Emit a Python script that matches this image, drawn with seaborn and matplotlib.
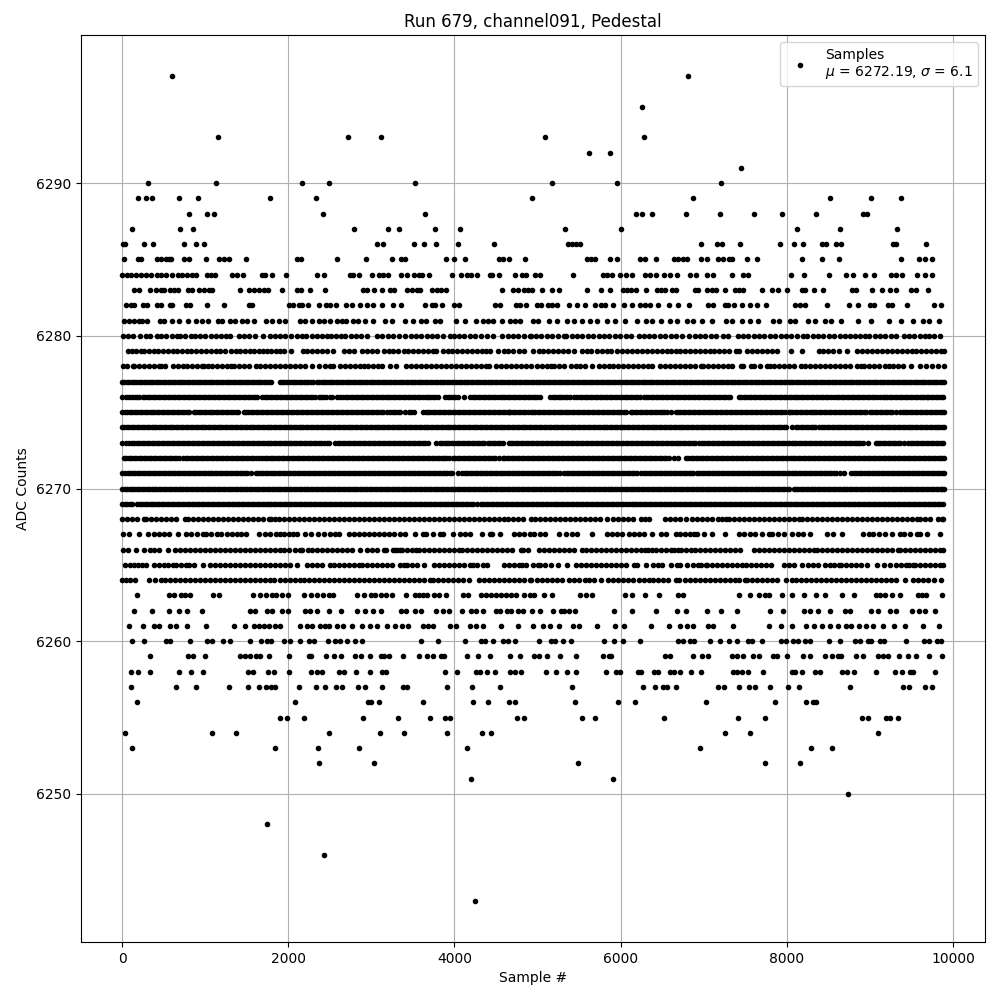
import matplotlib
matplotlib.use("Agg")
import matplotlib.pyplot as plt
import pandas as pd
import seaborn as sns

TITLE = "Run 679, channel091, Pedestal"
XLABEL = "Sample #"
YLABEL = "ADC Counts"
LEGEND = "Samples\n$\\mu$ = 6272.19, $\\sigma$ = 6.1"

# sample numbers, one list per ADC level
s6297 = [600, 6816]
s6295 = [6252]
s6293 = [1152, 2724, 3120, 5088, 6276]
s6292 = [5616, 5868]
s6291 = [7452]
s6290 = [312, 1128, 2160, 2484, 3528, 5172, 5952, 7212]
s6289 = [192, 288, 360, 684, 912, 1776, 2328, 4928, 6876, 8520, 9012, 9376]
s6288 = [804, 1020, 1104, 2412, 3648, 6180, 6260, 6372, 6792, 7200, 7608, 7944, 8352, 8916, 8964]
s6287 = [120, 696, 852, 2796, 3204, 3336, 3768, 4068, 5328, 6000, 8124, 8640, 9324]
s6286 = [5, 30, 264, 372, 744, 888, 984, 3072, 3144, 3516, 3636, 3780, 4044, 4476, 5368, 5416, 5464, 5508, 6964, 7156, 7216, 7440, 7920, 8088, 8196, 8428, 8468, 8596, 8656, 9276, 9316, 9672]
s6285 = [24, 192, 232, 424, 464, 524, 564, 592, 744, 804, 1004, 1172, 1224, 1284, 1496, 2104, 2152, 2592, 2940, 3252, 3356, 3404, 3900, 3996, 4128, 4536, 4584, 4656, 4848, 5596, 5644, 5688, 5868, 5956, 6228, 6296, 6420, 6636, 6684, 6756, 6804, 6964, 7036, 7176, 7236, 7304, 7336, 7516, 7644, 8184, 8424, 8628, 9376, 9588, 9660, 9744]
s6284 = [0, 56, 104, 164, 224, 284, 344, 416, 464, 524, 600, 672, 724, 784, 844, 884, 1016, 1064, 1124, 1324, 1384, 1456, 1684, 1724, 1804, 1968, 2344, 2424, 2744, 2784, 2856, 3012, 3096, 3136, 3204, 3352, 3432, 3516, 3576, 3604, 3696, 3972, 4084, 4156, 4204, 4276, 4424, 4456, 4536, 4724, 4816, 4864, 4964, 5028, 5424, 5788, 5836, 5896, 5988, 6068, 6136, 6296, 6356, 6428, 6524, 6588, 6676, 6836, 6904, 7044, 7108, 7336, 7476, 7536, 8044, 8204, 8508, 8716, 8796, 8936, 9044, 9256, 9316, 9388, 9564, 9660, 9744]
s6283 = [144, 204, 336, 404, 464, 504, 576, 624, 676, 792, 844, 924, 984, 1044, 1084, 1416, 1524, 1584, 1644, 1704, 1752, 1920, 2104, 2156, 2256, 2436, 2896, 2944, 3032, 3124, 3224, 3272, 3424, 3484, 3544, 3584, 3732, 3792, 3832, 3900, 4572, 4704, 4764, 4832, 4888, 4932, 5056, 5168, 5256, 5592, 5760, 5876, 6028, 6076, 6128, 6188, 6300, 6436, 6484, 6536, 6616, 6668, 6896, 6936, 7036, 7096, 7148, 7260, 7376, 7428, 7476, 7696, 7824, 7896, 8004, 8184, 8224, 8328, 8436, 8788, 8828, 9024, 9144, 9240, 9316, 9496, 9556, 9696]
s6282 = [48, 104, 144, 256, 304, 424, 472, 576, 604, 764, 816, 1024, 1224, 1524, 1568, 2004, 2056, 2124, 2164, 2232, 2364, 2456, 2504, 2576, 2696, 2764, 2860, 2952, 3024, 3128, 3256, 3360, 3648, 3724, 3764, 3852, 3996, 4056, 4492, 4552, 4744, 4784, 4864, 4988, 5044, 5124, 5176, 5236, 5376, 5472, 5568, 5688, 5764, 5816, 5908, 6036, 6136, 6236, 6296, 6356, 6448, 6576, 6688, 6828, 7056, 7116, 7256, 7296, 7368, 7464, 7556, 7636, 7744, 8096, 8156, 8216, 8480, 8748, 8856, 8996, 9044, 9216, 9268, 9444, 9768, 9852]
s6281 = [24, 84, 144, 204, 244, 300, 456, 504, 604, 684, 792, 884, 956, 1036, 1152, 1204, 1296, 1364, 1444, 1504, 1584, 1732, 1804, 1884, 1964, 2136, 2204, 2284, 2364, 2424, 2504, 2584, 2644, 2696, 2776, 2844, 2924, 3024, 3164, 3244, 3404, 3504, 3592, 3652, 3764, 3824, 4024, 4124, 4264, 4344, 4404, 4464, 4572, 4664, 4724, 4792, 4948, 5004, 5136, 5228, 5356, 5436, 5536, 5628, 5716, 5836, 5936, 6056, 6196, 6304, 6376, 6484, 6596, 6676, 6796, 6876, 6976, 7096, 7264, 7336, 7456, 7556, 7656, 7836, 7908, 8036, 8096, 8260, 8340, 8456, 8536, 8656, 8856, 9016, 9228, 9376, 9516, 9636, 9716, 9836]
s6280 = [16, 75, 135, 210, 284, 336, 424, 464, 530, 600, 664, 696, 760, 824, 872, 935, 1000, 1065, 1130, 1190, 1250, 1296, 1404, 1465, 1530, 1600, 1696, 1776, 1840, 1904, 1964, 2030, 2100, 2164, 2216, 2280, 2340, 2405, 2464, 2512, 2575, 2632, 2684, 2750, 2815, 2880, 2944, 3064, 3130, 3195, 3260, 3330, 3404, 3472, 3535, 3600, 3665, 3730, 3795, 3860, 3944, 3992, 4055, 4120, 4185, 4250, 4320, 4390, 4464, 4572, 4640, 4705, 4770, 4840, 4904, 4916, 4980, 5045, 5110, 5175, 5240, 5316, 5348, 5410, 5475, 5540, 5605, 5670, 5735, 5800, 5865, 5930, 5995, 6060, 6125, 6216, 6276, 6340, 6405, 6470, 6535, 6600, 6670, 6736, 6828, 6890, 6955, 7020, 7085, 7150, 7228, 7296, 7408, 7470, 7535, 7600, 7665, 7730, 7795, 7860, 7925, 7990, 8055, 8120, 8196, 8244, 8310, 8375, 8440, 8505, 8570, 8635, 8700, 8765, 8816, 8880, 8945, 8988, 9056, 9120, 9185, 9250, 9316, 9404, 9470, 9535, 9600, 9665, 9708, 9776, 9844]
s6279 = [68, 120, 170, 225, 268, 328, 388, 436, 495, 550, 610, 665, 720, 780, 835, 895, 950, 1010, 1065, 1125, 1180, 1236, 1308, 1365, 1420, 1480, 1535, 1590, 1650, 1700, 1748, 1788, 1848, 1900, 1948, 2028, 2180, 2228, 2288, 2345, 2405, 2468, 2536, 2668, 2730, 2788, 2888, 2948, 3005, 3065, 3148, 3208, 3265, 3325, 3390, 3440, 3500, 3560, 3620, 3680, 3740, 3780, 3860, 3920, 3975, 4035, 4095, 4150, 4210, 4270, 4330, 4385, 4432, 4528, 4590, 4645, 4700, 4780, 4840, 4940, 5012, 5070, 5130, 5190, 5250, 5310, 5370, 5440, 5540, 5590, 5640, 5720, 5780, 5840, 5880, 5960, 6020, 6080, 6140, 6200, 6260, 6320, 6380, 6440, 6500, 6552, 6604, 6660, 6720, 6780, 6840, 6900, 6960, 7020, 7076, 7124, 7180, 7240, 7300, 7384, 7424, 7524, 7580, 7640, 7700, 7760, 7820, 7876, 8044, 8184, 8384, 8440, 8500, 8560, 8630, 8724, 8844, 8900, 8960, 9020, 9080, 9140, 9200, 9260, 9320, 9380, 9440, 9500, 9560, 9620, 9680, 9740, 9800, 9860, 9890]
s6278 = [6, 60, 128, 148, 205, 265, 325, 385, 440, 468, 520, 608, 676, 728, 785, 845, 900, 960, 988, 1028, 1085, 1145, 1200, 1260, 1308, 1348, 1405, 1465, 1525, 1608, 1660, 1720, 1780, 1840, 1900, 1960, 2020, 2080, 2140, 2200, 2288, 2368, 2440, 2508, 2536, 2620, 2680, 2740, 2800, 2868, 2908, 2965, 3025, 3085, 3128, 3220, 3300, 3420, 3480, 3540, 3600, 3660, 3720, 3780, 3840, 3900, 3960, 4020, 4080, 4140, 4200, 4260, 4320, 4380, 4420, 4500, 4560, 4620, 4680, 4740, 4800, 4860, 4920, 4992, 5050, 5110, 5160, 5200, 5260, 5320, 5400, 5460, 5512, 5570, 5660, 5740, 5800, 5860, 5912, 5970, 6030, 6090, 6150, 6210, 6270, 6330, 6380, 6472, 6530, 6590, 6650, 6710, 6770, 6840, 6900, 6964, 6996, 7050, 7110, 7170, 7230, 7292, 7344, 7444, 7476, 7564, 7604, 7680, 7756, 7796, 7850, 7910, 7970, 8030, 8090, 8172, 8224, 8280, 8340, 8400, 8460, 8520, 8580, 8640, 8700, 8760, 8844, 8892, 8932, 8990, 9050, 9110, 9184, 9224, 9280, 9340, 9400, 9492, 9604, 9680, 9744, 9824, 9890]
s6277 = [0, 55, 115, 170, 232, 290, 345, 405, 462, 520, 580, 640, 695, 750, 810, 870, 925, 985, 1040, 1100, 1155, 1215, 1275, 1330, 1390, 1445, 1505, 1560, 1620, 1675, 1735, 1790, 1895, 1950, 2010, 2070, 2125, 2185, 2240, 2300, 2345, 2400, 2455, 2515, 2570, 2630, 2690, 2745, 2805, 2865, 2920, 2980, 3035, 3095, 3150, 3210, 3270, 3330, 3385, 3445, 3500, 3560, 3615, 3675, 3735, 3790, 3850, 3905, 3965, 4020, 4080, 4140, 4195, 4255, 4310, 4370, 4430, 4485, 4545, 4600, 4660, 4715, 4775, 4835, 4890, 4950, 5005, 5065, 5125, 5180, 5240, 5295, 5355, 5410, 5470, 5530, 5585, 5645, 5700, 5760, 5820, 5875, 5935, 5990, 6050, 6110, 6165, 6225, 6280, 6340, 6395, 6455, 6515, 6570, 6630, 6685, 6745, 6800, 6860, 6920, 6975, 7035, 7090, 7150, 7210, 7265, 7325, 7380, 7440, 7495, 7555, 7615, 7670, 7730, 7785, 7845, 7905, 7960, 8020, 8075, 8135, 8190, 8250, 8310, 8365, 8425, 8480, 8540, 8595, 8655, 8715, 8770, 8830, 8885, 8945, 9005, 9060, 9120, 9175, 9235, 9290, 9350, 9410, 9465, 9525, 9580, 9640, 9695, 9755, 9810, 9870, 9890,
         28, 85, 142, 200, 260, 318, 375, 433, 491, 550, 610, 667, 722, 780, 840, 897, 955, 1012, 1070, 1127, 1185, 1245, 1302, 1360, 1417, 1475, 1532, 1590, 1647, 1705, 1762, 1922, 1980, 2040, 2097, 2155, 2212, 2270, 2372, 2427, 2485, 2542, 2600, 2660, 2717, 2775, 2835, 2892, 2950, 3007, 3065, 3122, 3180, 3240, 3300, 3357, 3415, 3472, 3530, 3587, 3645, 3705, 3762, 3820, 3877, 3935, 3992, 4050, 4110, 4167, 4225, 4282, 4340, 4400, 4457, 4515, 4572, 4630, 4687, 4745, 4805, 4862, 4920, 4977, 5035, 5095, 5152, 5210, 5267, 5325, 5382, 5440, 5500, 5557, 5615, 5672, 5730, 5790, 5847, 5905, 5962, 6020, 6080, 6137, 6195, 6252, 6310, 6367, 6425, 6485, 6542, 6600, 6657, 6715, 6772, 6830, 6890, 6947, 7005, 7062, 7120, 7180, 7237, 7295, 7352, 7410, 7467, 7525, 7585, 7642, 7700, 7757, 7815, 7875, 7932, 7990, 8047, 8105, 8162, 8220, 8280, 8337, 8395, 8452, 8510, 8567, 8625, 8685, 8742, 8800, 8857, 8915, 8975, 9032, 9090, 9147, 9205, 9262, 9320, 9380, 9437, 9495, 9552, 9610, 9667, 9725, 9782, 9840]
s6276 = [0, 48, 88, 150, 208, 248, 310, 370, 430, 490, 550, 610, 670, 730, 790, 850, 910, 970, 1030, 1090, 1150, 1210, 1270, 1330, 1390, 1450, 1510, 1570, 1628, 1688, 1745, 1805, 1865, 1925, 1985, 2045, 2108, 2140, 2200, 2260, 2320, 2368, 2388, 2450, 2508, 2528, 2590, 2628, 2660, 2720, 2780, 2840, 2900, 2960, 3020, 3080, 3140, 3200, 3260, 3320, 3380, 3440, 3500, 3560, 3620, 3660, 3680, 3740, 3800, 3880, 3920, 3980, 4040, 4120, 4192, 4250, 4310, 4370, 4430, 4490, 4560, 4580, 4640, 4700, 4760, 4820, 4880, 4940, 4992, 5032, 5152, 5210, 5270, 5330, 5390, 5480, 5512, 5570, 5630, 5690, 5750, 5810, 5870, 5930, 5990, 6050, 6110, 6170, 6230, 6280, 6300, 6360, 6420, 6480, 6540, 6600, 6660, 6720, 6780, 6840, 6900, 6960, 7020, 7080, 7140, 7200, 7260, 7320, 7424, 7452, 7510, 7570, 7630, 7690, 7750, 7810, 7870, 7930, 7990, 8050, 8110, 8170, 8230, 8290, 8350, 8410, 8470, 8530, 8604, 8628, 8690, 8750, 8810, 8870, 8930, 8990, 9050, 9124, 9152, 9210, 9270, 9330, 9390, 9450, 9510, 9570, 9630, 9684, 9704, 9760, 9820, 9885,
         120, 180, 280, 340, 400, 460, 520, 580, 640, 700, 760, 820, 880, 940, 1000, 1060, 1120, 1180, 1240, 1300, 1360, 1420, 1480, 1540, 1600, 1716, 1775, 1835, 1895, 1955, 2015, 2075, 2170, 2230, 2290, 2420, 2690, 2750, 2810, 2870, 2930, 2990, 3050, 3110, 3170, 3230, 3290, 3350, 3410, 3470, 3530, 3590, 3710, 3770, 3950, 4010, 4220, 4280, 4340, 4400, 4460, 4520, 4610, 4670, 4730, 4790, 4850, 4910, 4965, 5180, 5240, 5300, 5360, 5435, 5540, 5600, 5660, 5720, 5780, 5840, 5900, 5960, 6020, 6080, 6140, 6200, 6330, 6390, 6450, 6510, 6570, 6630, 6690, 6750, 6810, 6870, 6930, 6990, 7050, 7110, 7170, 7230, 7290, 7480, 7540, 7600, 7660, 7720, 7780, 7840, 7900, 7960, 8020, 8080, 8140, 8200, 8260, 8320, 8380, 8440, 8500, 8565, 8660, 8720, 8780, 8840, 8900, 8960, 9020, 9085, 9180, 9240, 9300, 9360, 9420, 9480, 9540, 9600, 9655, 9730, 9790, 9850]
s6275 = [0, 60, 120, 180, 240, 300, 360, 420, 480, 540, 600, 660, 720, 780, 868, 888, 950, 1010, 1070, 1130, 1190, 1250, 1310, 1370, 1468, 1488, 1550, 1610, 1670, 1730, 1790, 1850, 1910, 1970, 2030, 2090, 2150, 2210, 2270, 2330, 2390, 2450, 2510, 2570, 2630, 2690, 2750, 2810, 2870, 2930, 2990, 3050, 3110, 3188, 3228, 3290, 3348, 3400, 3448, 3510, 3620, 3652, 3710, 3770, 3830, 3890, 3950, 4010, 4070, 4130, 4190, 4250, 4310, 4370, 4430, 4490, 4550, 4610, 4660, 4672, 4730, 4790, 4850, 4920, 4940, 5000, 5060, 5120, 5180, 5240, 5300, 5360, 5380, 5440, 5500, 5560, 5620, 5680, 5740, 5800, 5860, 5920, 5980, 6040, 6120, 6140, 6200, 6260, 6320, 6380, 6440, 6500, 6552, 6604, 6664, 6684, 6745, 6805, 6865, 6925, 6985, 7045, 7105, 7165, 7225, 7285, 7345, 7405, 7465, 7525, 7585, 7645, 7705, 7765, 7825, 7885, 7945, 8024, 8036, 8095, 8155, 8215, 8275, 8324, 8356, 8415, 8475, 8535, 8595, 8655, 8715, 8775, 8835, 8895, 8955, 9004, 9028, 9090, 9150, 9210, 9270, 9364, 9392, 9450, 9510, 9570, 9630, 9690, 9750, 9810, 9870, 9890,
         30, 90, 150, 210, 270, 330, 390, 450, 510, 570, 630, 690, 750, 810, 920, 980, 1040, 1100, 1160, 1220, 1280, 1340, 1400, 1520, 1580, 1640, 1700, 1760, 1820, 1880, 1940, 2000, 2060, 2120, 2180, 2240, 2300, 2360, 2420, 2480, 2540, 2600, 2660, 2720, 2780, 2840, 2900, 2960, 3020, 3080, 3140, 3260, 3320, 3480, 3680, 3740, 3800, 3860, 3920, 3980, 4040, 4100, 4160, 4220, 4280, 4340, 4400, 4460, 4520, 4580, 4640, 4700, 4760, 4820, 4885, 4970, 5030, 5090, 5150, 5210, 5270, 5330, 5410, 5470, 5530, 5590, 5650, 5710, 5770, 5830, 5890, 5950, 6010, 6070, 6170, 6230, 6290, 6350, 6410, 6470, 6525, 6715, 6775, 6835, 6895, 6955, 7015, 7075, 7135, 7195, 7255, 7315, 7375, 7435, 7495, 7555, 7615, 7675, 7735, 7795, 7855, 7915, 7975, 8065, 8125, 8185, 8245, 8300, 8385, 8445, 8505, 8565, 8625, 8685, 8745, 8805, 8865, 8925, 9060, 9120, 9180, 9240, 9310, 9420, 9480, 9540, 9600, 9660, 9720, 9780, 9840]
s6274 = [0, 58, 118, 176, 236, 294, 354, 412, 472, 530, 590, 648, 708, 766, 826, 884, 944, 1002, 1062, 1120, 1180, 1238, 1298, 1356, 1416, 1474, 1534, 1592, 1652, 1710, 1770, 1828, 1888, 1946, 2006, 2064, 2124, 2182, 2242, 2300, 2360, 2418, 2478, 2536, 2596, 2654, 2714, 2772, 2832, 2890, 2950, 3008, 3068, 3126, 3186, 3244, 3304, 3362, 3422, 3480, 3540, 3598, 3658, 3716, 3776, 3834, 3894, 3952, 4012, 4070, 4130, 4188, 4248, 4306, 4366, 4424, 4484, 4542, 4602, 4660, 4720, 4778, 4838, 4896, 4956, 5014, 5074, 5132, 5192, 5250, 5310, 5368, 5428, 5486, 5546, 5604, 5664, 5722, 5782, 5840, 5900, 5958, 6018, 6076, 6136, 6194, 6254, 6312, 6372, 6430, 6490, 6548, 6608, 6666, 6726, 6784, 6844, 6902, 6962, 7020, 7080, 7138, 7198, 7256, 7316, 7374, 7434, 7492, 7552, 7610, 7670, 7728, 7788, 7846, 7906, 7964, 8060, 8108, 8168, 8226, 8286, 8344, 8384, 8420, 8480, 8538, 8598, 8656, 8716, 8774, 8834, 8892, 8952, 9010, 9070, 9128, 9188, 9246, 9306, 9364, 9424, 9482, 9542, 9600, 9660, 9718, 9778, 9836, 9890,
         28, 88, 146, 206, 264, 324, 382, 442, 500, 560, 618, 678, 736, 796, 854, 914, 972, 1032, 1090, 1150, 1208, 1268, 1326, 1386, 1444, 1504, 1562, 1622, 1680, 1740, 1798, 1858, 1916, 1976, 2034, 2094, 2152, 2212, 2270, 2330, 2388, 2448, 2506, 2566, 2624, 2684, 2742, 2802, 2860, 2920, 2978, 3038, 3096, 3156, 3214, 3274, 3332, 3392, 3450, 3510, 3568, 3628, 3686, 3746, 3804, 3864, 3922, 3982, 4040, 4100, 4158, 4218, 4276, 4336, 4394, 4454, 4512, 4572, 4630, 4690, 4748, 4808, 4866, 4926, 4984, 5044, 5102, 5162, 5220, 5280, 5338, 5398, 5456, 5516, 5574, 5634, 5692, 5752, 5810, 5870, 5928, 5988, 6046, 6106, 6164, 6224, 6282, 6342, 6400, 6460, 6518, 6578, 6636, 6696, 6754, 6814, 6872, 6932, 6990, 7050, 7108, 7168, 7226, 7286, 7344, 7404, 7462, 7522, 7580, 7640, 7698, 7758, 7816, 7876, 7934, 7995, 8138, 8196, 8256, 8314, 8450, 8508, 8568, 8626, 8686, 8744, 8804, 8862, 8922, 8980, 9040, 9098, 9158, 9216, 9276, 9334, 9394, 9452, 9512, 9570, 9630, 9688, 9748, 9806, 9866]
s6273 = [0, 48, 88, 148, 208, 268, 328, 388, 448, 508, 568, 628, 688, 748, 808, 868, 928, 988, 1048, 1108, 1168, 1228, 1288, 1348, 1408, 1468, 1528, 1588, 1648, 1708, 1768, 1828, 1888, 1948, 2008, 2068, 2128, 2188, 2248, 2308, 2368, 2428, 2468, 2488, 2568, 2596, 2656, 2716, 2776, 2836, 2896, 2956, 3016, 3076, 3136, 3196, 3256, 3316, 3376, 3436, 3496, 3556, 3616, 3676, 3772, 3820, 3880, 3940, 4000, 4060, 4120, 4180, 4240, 4300, 4360, 4400, 4460, 4520, 4580, 4660, 4680, 4740, 4800, 4860, 4920, 4980, 5040, 5100, 5160, 5220, 5280, 5340, 5400, 5460, 5520, 5580, 5640, 5700, 5760, 5820, 5880, 5940, 6000, 6060, 6120, 6180, 6240, 6300, 6360, 6420, 6480, 6540, 6600, 6660, 6720, 6780, 6840, 6900, 6944, 6976, 7036, 7096, 7156, 7216, 7276, 7336, 7396, 7456, 7516, 7576, 7636, 7696, 7756, 7816, 7876, 7936, 7996, 8056, 8116, 8176, 8236, 8296, 8356, 8416, 8476, 8536, 8596, 8656, 8716, 8776, 8836, 8884, 8912, 8972, 9076, 9092, 9152, 9212, 9272, 9332, 9404, 9460, 9520, 9580, 9640, 9700, 9760, 9820, 9885,
         118, 178, 238, 298, 358, 418, 478, 538, 598, 658, 718, 778, 838, 898, 958, 1018, 1078, 1138, 1198, 1258, 1318, 1378, 1438, 1498, 1558, 1618, 1678, 1738, 1798, 1858, 1918, 1978, 2038, 2098, 2158, 2218, 2278, 2338, 2398, 2626, 2686, 2746, 2806, 2866, 2926, 2986, 3046, 3106, 3166, 3226, 3286, 3346, 3406, 3466, 3526, 3586, 3646, 3850, 3910, 3970, 4030, 4090, 4150, 4210, 4270, 4330, 4430, 4490, 4550, 4710, 4770, 4830, 4890, 4950, 5010, 5070, 5130, 5190, 5250, 5310, 5370, 5430, 5490, 5550, 5610, 5670, 5730, 5790, 5850, 5910, 5970, 6030, 6090, 6150, 6210, 6270, 6330, 6390, 6450, 6510, 6570, 6630, 6690, 6750, 6810, 6870, 7006, 7066, 7126, 7186, 7246, 7306, 7366, 7426, 7486, 7546, 7606, 7666, 7726, 7786, 7846, 7906, 7966, 8026, 8086, 8146, 8206, 8266, 8326, 8386, 8446, 8506, 8566, 8626, 8686, 8746, 8806, 8860, 9122, 9182, 9242, 9302, 9365, 9490, 9550, 9610, 9670, 9730, 9790, 9850]
s6272 = [20, 80, 140, 200, 260, 320, 380, 440, 500, 560, 620, 688, 736, 796, 856, 916, 976, 1036, 1096, 1156, 1216, 1276, 1336, 1396, 1456, 1516, 1576, 1648, 1684, 1744, 1804, 1864, 1924, 1984, 2044, 2104, 2164, 2224, 2284, 2344, 2404, 2464, 2524, 2584, 2644, 2704, 2764, 2824, 2884, 2944, 3004, 3064, 3124, 3184, 3244, 3304, 3364, 3424, 3484, 3544, 3604, 3664, 3724, 3784, 3844, 3904, 3980, 4008, 4068, 4128, 4188, 4248, 4308, 4368, 4428, 4488, 4580, 4600, 4660, 4720, 4780, 4840, 4900, 4960, 5020, 5080, 5140, 5200, 5260, 5320, 5380, 5440, 5500, 5560, 5620, 5680, 5740, 5800, 5860, 5920, 5980, 6040, 6100, 6160, 6220, 6280, 6340, 6400, 6460, 6520, 6580, 6688, 6784, 6844, 6904, 6964, 7024, 7084, 7144, 7204, 7264, 7324, 7384, 7444, 7504, 7564, 7624, 7684, 7744, 7804, 7864, 7924, 7984, 8044, 8104, 8164, 8224, 8284, 8344, 8404, 8464, 8524, 8584, 8644, 8704, 8764, 8824, 8884, 8944, 9004, 9064, 9124, 9184, 9244, 9304, 9364, 9424, 9484, 9544, 9604, 9664, 9724, 9784, 9844, 9890,
         50, 110, 170, 230, 290, 350, 410, 470, 530, 590, 650, 766, 826, 886, 946, 1006, 1066, 1126, 1186, 1246, 1306, 1366, 1426, 1486, 1546, 1610, 1714, 1774, 1834, 1894, 1954, 2014, 2074, 2134, 2194, 2254, 2314, 2374, 2434, 2494, 2554, 2614, 2674, 2734, 2794, 2854, 2914, 2974, 3034, 3094, 3154, 3214, 3274, 3334, 3394, 3454, 3514, 3574, 3634, 3694, 3754, 3814, 3874, 3940, 4038, 4098, 4158, 4218, 4278, 4338, 4398, 4458, 4530, 4630, 4690, 4750, 4810, 4870, 4930, 4990, 5050, 5110, 5170, 5230, 5290, 5350, 5410, 5470, 5530, 5590, 5650, 5710, 5770, 5830, 5890, 5950, 6010, 6070, 6130, 6190, 6250, 6310, 6370, 6430, 6490, 6550, 6640, 6814, 6874, 6934, 6994, 7054, 7114, 7174, 7234, 7294, 7354, 7414, 7474, 7534, 7594, 7654, 7714, 7774, 7834, 7894, 7954, 8014, 8074, 8134, 8194, 8254, 8314, 8374, 8434, 8494, 8554, 8614, 8674, 8734, 8794, 8854, 8914, 8974, 9034, 9094, 9154, 9214, 9274, 9334, 9394, 9454, 9514, 9574, 9634, 9694, 9754, 9814, 9870]
s6271 = [0, 36, 68, 128, 188, 248, 308, 368, 428, 488, 548, 608, 668, 728, 788, 848, 908, 968, 1028, 1088, 1148, 1208, 1268, 1328, 1388, 1448, 1508, 1608, 1636, 1696, 1756, 1816, 1876, 1936, 1996, 2056, 2116, 2176, 2236, 2296, 2356, 2416, 2476, 2536, 2596, 2656, 2716, 2776, 2836, 2896, 2956, 3016, 3076, 3136, 3196, 3256, 3316, 3376, 3436, 3496, 3556, 3616, 3676, 3736, 3796, 3856, 3916, 3976, 4040, 4092, 4152, 4212, 4272, 4332, 4392, 4452, 4512, 4572, 4632, 4692, 4752, 4812, 4872, 4932, 4992, 5052, 5112, 5172, 5232, 5320, 5352, 5412, 5472, 5532, 5592, 5652, 5712, 5772, 5832, 5892, 5952, 6012, 6072, 6132, 6192, 6240, 6280, 6340, 6400, 6460, 6520, 6580, 6640, 6700, 6760, 6820, 6876, 6916, 6976, 7036, 7096, 7156, 7216, 7276, 7336, 7396, 7456, 7516, 7576, 7636, 7696, 7756, 7816, 7876, 7936, 7996, 8056, 8116, 8176, 8236, 8296, 8356, 8416, 8476, 8536, 8596, 8684, 8776, 8836, 8896, 8964, 9024, 9084, 9144, 9204, 9264, 9324, 9384, 9444, 9504, 9564, 9624, 9684, 9744, 9804, 9864, 9890,
         98, 158, 218, 278, 338, 398, 458, 518, 578, 638, 698, 758, 818, 878, 938, 998, 1058, 1118, 1178, 1238, 1298, 1358, 1418, 1478, 1550, 1666, 1726, 1786, 1846, 1906, 1966, 2026, 2086, 2146, 2206, 2266, 2326, 2386, 2446, 2506, 2566, 2626, 2686, 2746, 2806, 2866, 2926, 2986, 3046, 3106, 3166, 3226, 3286, 3346, 3406, 3466, 3526, 3586, 3646, 3706, 3766, 3826, 3886, 3946, 4122, 4182, 4242, 4302, 4362, 4422, 4482, 4542, 4602, 4662, 4722, 4782, 4842, 4902, 4962, 5022, 5082, 5142, 5202, 5270, 5382, 5442, 5502, 5562, 5622, 5682, 5742, 5802, 5862, 5922, 5982, 6042, 6102, 6162, 6310, 6370, 6430, 6490, 6550, 6610, 6670, 6730, 6790, 6850, 6946, 7006, 7066, 7126, 7186, 7246, 7306, 7366, 7426, 7486, 7546, 7606, 7666, 7726, 7786, 7846, 7906, 7966, 8026, 8086, 8146, 8206, 8266, 8326, 8386, 8446, 8506, 8566, 8640, 8806, 8866, 8930, 8994, 9054, 9114, 9174, 9234, 9294, 9354, 9414, 9474, 9534, 9594, 9654, 9714, 9774, 9834]
s6270 = [0, 60, 118, 178, 236, 296, 354, 414, 472, 532, 590, 650, 708, 768, 826, 886, 944, 1004, 1062, 1122, 1180, 1240, 1298, 1358, 1416, 1476, 1534, 1594, 1652, 1712, 1770, 1830, 1888, 1948, 2006, 2066, 2124, 2184, 2242, 2302, 2360, 2420, 2478, 2538, 2596, 2656, 2714, 2774, 2832, 2892, 2950, 3010, 3068, 3128, 3186, 3246, 3304, 3364, 3422, 3482, 3540, 3600, 3658, 3718, 3776, 3836, 3894, 3954, 4012, 4072, 4130, 4190, 4248, 4308, 4366, 4426, 4484, 4544, 4602, 4662, 4720, 4780, 4838, 4898, 4956, 5016, 5074, 5134, 5192, 5252, 5310, 5370, 5428, 5488, 5546, 5606, 5664, 5724, 5782, 5842, 5900, 5960, 6018, 6078, 6136, 6196, 6254, 6314, 6372, 6432, 6490, 6550, 6608, 6668, 6726, 6786, 6844, 6904, 6962, 7022, 7080, 7140, 7198, 7258, 7316, 7376, 7434, 7494, 7552, 7612, 7670, 7730, 7788, 7848, 7906, 7966, 8030, 8080, 8138, 8198, 8256, 8316, 8374, 8434, 8492, 8552, 8610, 8670, 8728, 8788, 8846, 8906, 8964, 9024, 9082, 9142, 9200, 9260, 9318, 9378, 9436, 9496, 9554, 9614, 9672, 9732, 9790, 9850, 9890,
         30, 90, 148, 208, 266, 326, 384, 444, 502, 562, 620, 680, 738, 798, 856, 916, 974, 1034, 1092, 1152, 1210, 1270, 1328, 1388, 1446, 1506, 1564, 1624, 1682, 1742, 1800, 1860, 1918, 1978, 2036, 2096, 2154, 2214, 2272, 2332, 2390, 2450, 2508, 2568, 2626, 2686, 2744, 2804, 2862, 2922, 2980, 3040, 3098, 3158, 3216, 3276, 3334, 3394, 3452, 3512, 3570, 3630, 3688, 3748, 3806, 3866, 3924, 3984, 4042, 4102, 4160, 4220, 4278, 4338, 4396, 4456, 4514, 4574, 4632, 4692, 4750, 4810, 4868, 4928, 4986, 5046, 5104, 5164, 5222, 5282, 5340, 5400, 5458, 5518, 5576, 5636, 5694, 5754, 5812, 5872, 5930, 5990, 6048, 6108, 6166, 6226, 6284, 6344, 6402, 6462, 6520, 6580, 6638, 6698, 6756, 6816, 6874, 6934, 6992, 7052, 7110, 7170, 7228, 7288, 7346, 7406, 7464, 7524, 7582, 7642, 7700, 7760, 7818, 7878, 7936, 7996, 8108, 8168, 8226, 8286, 8344, 8404, 8462, 8522, 8580, 8640, 8698, 8758, 8816, 8876, 8934, 8994, 9052, 9112, 9170, 9230, 9288, 9348, 9406, 9466, 9524, 9584, 9642, 9702, 9760, 9820, 9870]
s6269 = [0, 60, 116, 180, 240, 300, 360, 420, 480, 540, 600, 660, 720, 780, 840, 900, 960, 1020, 1048, 1108, 1168, 1228, 1288, 1348, 1408, 1468, 1528, 1588, 1648, 1708, 1768, 1828, 1888, 1948, 2008, 2068, 2128, 2188, 2248, 2308, 2368, 2428, 2488, 2548, 2608, 2668, 2728, 2788, 2848, 2908, 2968, 3028, 3088, 3148, 3208, 3268, 3328, 3388, 3448, 3508, 3568, 3628, 3688, 3748, 3808, 3868, 3928, 3988, 4048, 4108, 4168, 4228, 4320, 4348, 4408, 4468, 4528, 4588, 4648, 4708, 4768, 4828, 4888, 4948, 5008, 5068, 5128, 5192, 5220, 5280, 5340, 5400, 5460, 5520, 5580, 5640, 5700, 5760, 5820, 5880, 5940, 6000, 6060, 6140, 6160, 6220, 6280, 6340, 6400, 6460, 6520, 6580, 6640, 6700, 6760, 6820, 6880, 6940, 7000, 7060, 7120, 7180, 7240, 7300, 7360, 7420, 7480, 7540, 7600, 7660, 7720, 7780, 7840, 7900, 7960, 8020, 8080, 8140, 8200, 8260, 8320, 8380, 8440, 8492, 8524, 8584, 8644, 8704, 8764, 8824, 8884, 8944, 9004, 9064, 9124, 9184, 9244, 9304, 9364, 9424, 9484, 9544, 9604, 9664, 9724, 9784, 9844, 9880,
         30, 90, 210, 270, 330, 390, 450, 510, 570, 630, 690, 750, 810, 870, 930, 990, 1078, 1138, 1198, 1258, 1318, 1378, 1438, 1498, 1558, 1618, 1678, 1738, 1798, 1858, 1918, 1978, 2038, 2098, 2158, 2218, 2278, 2338, 2398, 2458, 2518, 2578, 2638, 2698, 2758, 2818, 2878, 2938, 2998, 3058, 3118, 3178, 3238, 3298, 3358, 3418, 3478, 3538, 3598, 3658, 3718, 3778, 3838, 3898, 3958, 4018, 4078, 4138, 4198, 4275, 4378, 4438, 4498, 4558, 4618, 4678, 4738, 4798, 4858, 4918, 4978, 5038, 5098, 5160, 5250, 5310, 5370, 5430, 5490, 5550, 5610, 5670, 5730, 5790, 5850, 5910, 5970, 6030, 6100, 6190, 6250, 6310, 6370, 6430, 6490, 6550, 6610, 6670, 6730, 6790, 6850, 6910, 6970, 7030, 7090, 7150, 7210, 7270, 7330, 7390, 7450, 7510, 7570, 7630, 7690, 7750, 7810, 7870, 7930, 7990, 8050, 8110, 8170, 8230, 8290, 8350, 8410, 8465, 8554, 8614, 8674, 8734, 8794, 8854, 8914, 8974, 9034, 9094, 9154, 9214, 9274, 9334, 9394, 9454, 9514, 9574, 9634, 9694, 9754, 9814]
s6268 = [0, 60, 120, 180, 268, 288, 350, 410, 470, 530, 590, 650, 756, 788, 850, 910, 970, 1030, 1090, 1150, 1210, 1270, 1330, 1390, 1450, 1510, 1570, 1630, 1690, 1768, 1796, 1836, 1888, 1950, 2010, 2070, 2130, 2190, 2250, 2310, 2370, 2430, 2490, 2550, 2610, 2670, 2730, 2788, 2848, 2910, 2970, 3030, 3090, 3150, 3210, 3270, 3330, 3390, 3450, 3510, 3570, 3630, 3690, 3750, 3810, 3870, 3930, 3990, 4050, 4110, 4170, 4230, 4290, 4350, 4410, 4470, 4530, 4590, 4650, 4710, 4770, 4830, 4920, 4968, 5030, 5090, 5150, 5210, 5270, 5330, 5390, 5450, 5510, 5570, 5630, 5690, 5750, 5840, 5912, 5970, 6030, 6090, 6150, 6240, 6288, 6340, 6528, 6590, 6650, 6720, 6792, 6860, 6920, 6980, 7040, 7100, 7176, 7224, 7264, 7304, 7365, 7425, 7485, 7545, 7605, 7665, 7725, 7785, 7845, 7905, 7965, 8025, 8085, 8144, 8184, 8245, 8305, 8365, 8425, 8485, 8545, 8605, 8665, 8725, 8785, 8845, 8905, 8965, 9025, 9085, 9145, 9205, 9265, 9325, 9385, 9445, 9505, 9564, 9604, 9665, 9725, 9824, 9864, 9885]
s6267 = [8, 88, 208, 308, 380, 440, 500, 560, 668, 772, 835, 900, 968, 1012, 1075, 1140, 1188, 1268, 1328, 1380, 1430, 1488, 1648, 1715, 1780, 1848, 1900, 1948, 2008, 2060, 2108, 2196, 2268, 2356, 2430, 2508, 2560, 2612, 2728, 2790, 2850, 2910, 2970, 3030, 3090, 3150, 3210, 3270, 3348, 3408, 3520, 3620, 3660, 3740, 3820, 3860, 3980, 4072, 4130, 4192, 4328, 4424, 4452, 4552, 4712, 4775, 4840, 4912, 4960, 5025, 5088, 5260, 5340, 5420, 5472, 5652, 5840, 5900, 5960, 6020, 6100, 6160, 6220, 6280, 6380, 6480, 6540, 6660, 6720, 6780, 6840, 6884, 6924, 7000, 7104, 7252, 7424, 7490, 7555, 7620, 7700, 7784, 7824, 7890, 7964, 8064, 8130, 8200, 8276, 8484, 8550, 8664, 8912, 8984, 9040, 9104, 9184, 9264, 9356, 9404, 9480, 9564, 9604, 9692, 9844]
s6266 = [8, 70, 168, 268, 330, 390, 450, 548, 636, 695, 755, 815, 875, 935, 995, 1055, 1115, 1175, 1235, 1295, 1355, 1415, 1475, 1535, 1595, 1655, 1715, 1775, 1835, 1895, 1948, 2008, 2075, 2140, 2168, 2236, 2288, 2350, 2410, 2470, 2530, 2590, 2650, 2710, 2770, 2868, 2948, 3010, 3070, 3148, 3180, 3260, 3288, 3348, 3308, 3365, 3425, 3485, 3540, 3572, 3635, 3695, 3755, 3815, 3875, 3935, 3995, 4060, 4092, 4150, 4210, 4270, 4330, 4390, 4450, 4510, 4570, 4630, 4690, 4800, 4820, 4880, 5020, 5080, 5140, 5200, 5260, 5320, 5380, 5440, 5540, 5580, 5640, 5700, 5760, 5820, 5880, 5940, 6000, 6060, 6120, 6180, 6240, 6288, 6328, 6380, 6420, 6480, 6540, 6600, 6640, 6688, 6724, 6785, 6844, 6892, 6950, 7010, 7076, 7132, 7195, 7255, 7315, 7375, 7436, 7604, 7665, 7725, 7785, 7845, 7905, 7965, 8025, 8085, 8145, 8205, 8265, 8332, 8364, 8425, 8485, 8545, 8605, 8665, 8725, 8785, 8845, 8905, 8965, 9025, 9085, 9145, 9205, 9265, 9332, 9364, 9425, 9485, 9545, 9605, 9665, 9725, 9785, 9845, 9885]
s6265 = [36, 90, 148, 188, 240, 288, 388, 445, 500, 555, 608, 648, 710, 768, 808, 870, 968, 1060, 1120, 1180, 1240, 1300, 1360, 1420, 1480, 1540, 1600, 1660, 1720, 1780, 1840, 1900, 1960, 2020, 2108, 2220, 2280, 2340, 2400, 2508, 2548, 2610, 2670, 2730, 2790, 2848, 2888, 2950, 3010, 3070, 3130, 3190, 3250, 3348, 3392, 3432, 3490, 3550, 3632, 3752, 3810, 3870, 3930, 3990, 4050, 4110, 4192, 4220, 4272, 4340, 4392, 4600, 4660, 4720, 4780, 4808, 4860, 4940, 5000, 5032, 5095, 5160, 5240, 5360, 5460, 5520, 5580, 5640, 5700, 5760, 5820, 5880, 5940, 6000, 6060, 6160, 6200, 6300, 6392, 6445, 6500, 6600, 6680, 6720, 6804, 6876, 6932, 6972, 7024, 7044, 7104, 7156, 7215, 7275, 7335, 7395, 7464, 7504, 7565, 7625, 7692, 7744, 7804, 7964, 8025, 8085, 8184, 8252, 8315, 8375, 8464, 8516, 8570, 8624, 8652, 8715, 8775, 8835, 8895, 8964, 9084, 9165, 9244, 9316, 9375, 9436, 9464, 9516, 9544, 9605, 9665, 9725, 9785, 9845, 9885]
s6264 = [0, 50, 96, 156, 324, 400, 472, 512, 575, 635, 695, 755, 816, 872, 935, 995, 1055, 1115, 1175, 1235, 1295, 1355, 1415, 1475, 1535, 1595, 1655, 1715, 1784, 1832, 1895, 1955, 2015, 2075, 2135, 2195, 2255, 2315, 2375, 2435, 2495, 2555, 2615, 2675, 2735, 2795, 2855, 2915, 2975, 3035, 3096, 3152, 3215, 3275, 3335, 3395, 3455, 3515, 3575, 3635, 3704, 3744, 3805, 3865, 3925, 3985, 4045, 4105, 4176, 4296, 4355, 4415, 4475, 4535, 4595, 4655, 4715, 4775, 4835, 4904, 4916, 4988, 5050, 5110, 5170, 5230, 5290, 5376, 5436, 5500, 5576, 5616, 5680, 5760, 5844, 5904, 5965, 6025, 6085, 6145, 6220, 6276, 6335, 6395, 6455, 6515, 6575, 6664, 6708, 6770, 6830, 6890, 6950, 7010, 7070, 7130, 7190, 7250, 7310, 7370, 7430, 7496, 7524, 7585, 7645, 7705, 7765, 7825, 7885, 7988, 8056, 8115, 8175, 8235, 8295, 8355, 8415, 8475, 8535, 8595, 8655, 8715, 8775, 8835, 8895, 8955, 9015, 9075, 9135, 9195, 9255, 9315, 9416, 9516, 9575, 9636, 9696, 9775, 9856]
s6263 = [184, 564, 624, 704, 760, 816, 1096, 1164, 1572, 1656, 1730, 1804, 1856, 1925, 1992, 2184, 2272, 2345, 2415, 2484, 2544, 2832, 2910, 2992, 3048, 3116, 3176, 3252, 3420, 3524, 3570, 3616, 3672, 3752, 3816, 3900, 4104, 4164, 4324, 4385, 4444, 4496, 4564, 4625, 4685, 4744, 4832, 4904, 4956, 5076, 5176, 5516, 5585, 5656, 6048, 6136, 6296, 6456, 6684, 6756, 7428, 7560, 7668, 7736, 7788, 7944, 8056, 8208, 8352, 8460, 8668, 8808, 9076, 9125, 9176, 9268, 9356, 9576, 9625, 9676, 9868]
s6262 = [144, 360, 564, 684, 776, 964, 1536, 1604, 1744, 1804, 1924, 1996, 2204, 2264, 2344, 2484, 2632, 2832, 2924, 3024, 3112, 3360, 3412, 3528, 3592, 3776, 3856, 3936, 4096, 4204, 4264, 4344, 4504, 4544, 4632, 4684, 4764, 4824, 4936, 5028, 5184, 5276, 5316, 5376, 5448, 5916, 6136, 6428, 6672, 6792, 7044, 7212, 7404, 7800, 7956, 8208, 8280, 8376, 8520, 8704, 8764, 9016, 9096, 9236, 9308, 9504, 9596, 9660, 9780]
s6261 = [80, 252, 384, 444, 576, 648, 784, 1012, 1344, 1476, 1584, 1644, 1704, 1764, 1844, 1904, 2144, 2224, 2284, 2384, 2444, 2496, 2584, 2664, 2764, 2884, 2984, 3064, 3184, 3284, 3364, 3444, 3624, 3684, 3744, 3952, 4016, 4184, 4264, 4344, 4564, 4764, 4948, 5060, 5148, 5256, 5424, 5500, 5712, 5928, 6044, 6360, 6576, 6716, 6804, 6876, 7056, 7116, 7356, 7780, 7924, 8056, 8232, 8328, 8424, 8516, 8616, 8716, 8776, 8864, 8948, 9036, 9156, 9288, 9416, 9636, 9836]
s6260 = [120, 264, 524, 576, 816, 1024, 1084, 1212, 1304, 1536, 1668, 1744, 1792, 1944, 2024, 2136, 2244, 2304, 2480, 2568, 2624, 2712, 2800, 2892, 3600, 3804, 4128, 4324, 4364, 4464, 4584, 4644, 4724, 5016, 5164, 5204, 5304, 5404, 5796, 5916, 6028, 6236, 6688, 6748, 6836, 6888, 7080, 7200, 7308, 7404, 7536, 7576, 7704, 7928, 7988, 8076, 8136, 8216, 8284, 8508, 8640, 8824, 8876, 8976, 9016, 9124, 9172, 9432, 9656, 9708, 9804, 9856]
s6259 = [336, 792, 856, 996, 1424, 1476, 1544, 1608, 1664, 1764, 2004, 2244, 2272, 2448, 2556, 2640, 2808, 2872, 2988, 3112, 3152, 3208, 3384, 3576, 3672, 3744, 3832, 3872, 4152, 4284, 4428, 4664, 4788, 4956, 5016, 5116, 5268, 5460, 5784, 5856, 5888, 6528, 6596, 6876, 6984, 7056, 7336, 7404, 7476, 7596, 7664, 7836, 7884, 7996, 8196, 8280, 8460, 8548, 8616, 8656, 8832, 8916, 9096, 9156, 9216, 9348, 9456, 9552, 9708, 9868]
s6258 = [108, 192, 336, 684, 828, 972, 1512, 1572, 1752, 1832, 2004, 2272, 2344, 2404, 2616, 2672, 2820, 2988, 3132, 3172, 3888, 4036, 4264, 4304, 4392, 4488, 4664, 4724, 4800, 5104, 5220, 5352, 5468, 5820, 5944, 5988, 6204, 6244, 6396, 6452, 6588, 6644, 6720, 6852, 6972, 7348, 7396, 7456, 7536, 7716, 8056, 8104, 8188, 8336, 8404, 8664, 8728, 8808, 9076, 9296, 9380, 9484, 9524, 9780]
s6257 = [108, 648, 888, 1284, 1512, 1644, 1728, 1792, 1840, 2124, 2328, 2436, 2580, 2652, 2844, 2928, 3132, 3384, 3432, 3912, 4212, 4548, 5412, 6264, 6408, 6504, 6556, 6660, 7168, 7248, 7428, 7548, 7620, 7800, 8016, 8148, 8760, 9396, 9468, 9668, 9744]
s6256 = [184, 2076, 2956, 2992, 3096, 3624, 4220, 4404, 4656, 4724, 5448, 5964, 6168, 7032, 7860, 8232, 8316, 8356]
s6255 = [1896, 1984, 2184, 2904, 3324, 3708, 3888, 3944, 4752, 4836, 5532, 5688, 6516, 7416, 7740, 8904, 8976, 9196, 9236, 9336]
s6254 = [36, 1080, 1368, 2484, 3108, 3396, 3912, 4332, 4440, 7260, 7560, 9096]
s6253 = [120, 1836, 2352, 2856, 4152, 6960, 8292, 8544]
s6252 = [2364, 3036, 5484, 7740, 8160]
s6251 = [4200, 5904]
s6250 = [8736]
s6248 = [1740]
s6246 = [2424]
s6243 = [4248]

levels = [6297, 6295, 6293, 6292, 6291, 6290, 6289, 6288, 6287, 6286, 6285, 6284, 6283,
          6282, 6281, 6280, 6279, 6278, 6277, 6276, 6275, 6274, 6273, 6272, 6271, 6270,
          6269, 6268, 6267, 6266, 6265, 6264, 6263, 6262, 6261, 6260, 6259, 6258, 6257,
          6256, 6255, 6254, 6253, 6252, 6251, 6250, 6248, 6246, 6243]
samples = [s6297, s6295, s6293, s6292, s6291, s6290, s6289, s6288, s6287, s6286, s6285, s6284, s6283,
           s6282, s6281, s6280, s6279, s6278, s6277, s6276, s6275, s6274, s6273, s6272, s6271, s6270,
           s6269, s6268, s6267, s6266, s6265, s6264, s6263, s6262, s6261, s6260, s6259, s6258, s6257,
           s6256, s6255, s6254, s6253, s6252, s6251, s6250, s6248, s6246, s6243]

df = pd.DataFrame(
    [(sample, level) for level, row in zip(levels, samples) for sample in row],
    columns=["sample", "adc"],
)

fig, ax = plt.subplots(figsize=(10, 10), dpi=100)
sns.lineplot(data=df, x="sample", y="adc", estimator=None, sort=False, errorbar=None,
             linestyle="", marker=".", markersize=6, color="black",
             markeredgecolor="black", markeredgewidth=1.0, label=LEGEND, ax=ax)
ax.grid(True)
ax.set_axisbelow(True)
ax.set_title(TITLE)
ax.set_xlabel(XLABEL)
ax.set_ylabel(YLABEL)
ax.ticklabel_format(useOffset=False, style="plain", axis="y")
ax.legend(loc="upper right")
fig.subplots_adjust(left=0.081, right=0.985, top=0.965, bottom=0.058)
fig.savefig("out.png", dpi=100)
